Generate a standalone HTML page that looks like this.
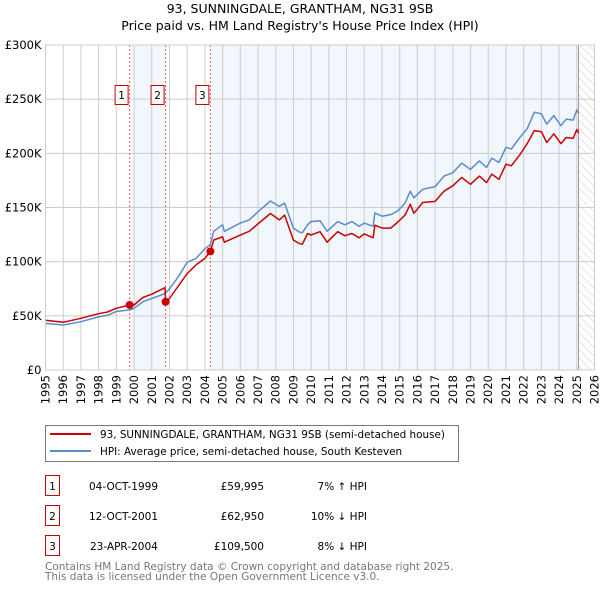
<!DOCTYPE html>
<html><head><meta charset="utf-8"><style>
body{margin:0;background:#fff;}
svg{display:block;font-family:"DejaVu Sans","Liberation Sans",sans-serif;}
</style></head><body>
<svg id="chart" width="600" height="590" viewBox="0 0 600 590" xmlns="http://www.w3.org/2000/svg">
<defs>
<pattern id="hatch" width="6" height="6" patternUnits="userSpaceOnUse" patternTransform="rotate(-45)">
<line x1="0" y1="0" x2="0" y2="6" stroke="#ccc" stroke-width="1"/></pattern>
</defs>
<text x="300" y="13" text-anchor="middle" font-size="12.5" fill="#000">93, SUNNINGDALE, GRANTHAM, NG31 9SB</text>
<text x="300" y="30" text-anchor="middle" font-size="12.5" fill="#000">Price paid vs. HM Land Registry's House Price Index (HPI)</text>
<g id="plot"></g>
<g>
<rect x="45.5" y="425.5" width="413" height="36" fill="#fff" stroke="#777"/>
<line x1="50" y1="434" x2="91" y2="434" stroke="#cc0000" stroke-width="2"/>
<text x="100" y="438" font-size="10.4">93, SUNNINGDALE, GRANTHAM, NG31 9SB (semi-detached house)</text>
<line x1="50" y1="451" x2="91" y2="451" stroke="#5b8bd0" stroke-width="2"/>
<text x="100" y="455" font-size="10.4">HPI: Average price, semi-detached house, South Kesteven</text>
</g>
<g font-size="10.5">
<rect x="45.5" y="475.5" width="14" height="20" fill="#fff" stroke="#cc0000"/><text x="52.5" y="490" text-anchor="middle">1</text>
<text x="89" y="490">04-OCT-1999</text><text x="264" y="490" text-anchor="end">£59,995</text><text x="367" y="490" text-anchor="end">7% ↑ HPI</text>
<rect x="45.5" y="505.5" width="14" height="20" fill="#fff" stroke="#cc0000"/><text x="52.5" y="520" text-anchor="middle">2</text>
<text x="89" y="520">12-OCT-2001</text><text x="264" y="520" text-anchor="end">£62,950</text><text x="367" y="520" text-anchor="end">10% ↓ HPI</text>
<rect x="45.5" y="535.5" width="14" height="20" fill="#fff" stroke="#cc0000"/><text x="52.5" y="550" text-anchor="middle">3</text>
<text x="90" y="550">23-APR-2004</text><text x="264" y="550" text-anchor="end">£109,500</text><text x="367" y="550" text-anchor="end">8% ↓ HPI</text>
</g>
<text x="45" y="570" font-size="10.5" fill="#777">Contains HM Land Registry data © Crown copyright and database right 2025.</text>
<text x="45" y="580" font-size="10.5" fill="#777">This data is licensed under the Open Government Licence v3.0.</text>
</svg>
<script>
const hpiYears=[1995,1996,1997,1998,1998.5,1999,1999.75,2000,2000.5,2001,2001.75,2002,2002.5,2003,2003.5,2004,2004.3,2004.5,2005,2005.1,2006,2006.5,2007,2007.7,2008.2,2008.5,2009,2009.3,2009.5,2009.8,2010,2010.5,2010.9,2011.5,2011.9,2012.3,2012.7,2013,2013.5,2013.6,2014,2014.5,2014.9,2015.3,2015.6,2015.8,2016.3,2017,2017.5,2018,2018.5,2019,2019.5,2019.9,2020.2,2020.6,2021,2021.3,2021.8,2022.2,2022.6,2023,2023.3,2023.7,2024.1,2024.4,2024.8,2025,2025.1];
const hpiValues=[43,41.5,44.6,49,50.5,54,55.4,57,63,66,70.5,75,86,99.5,103,112,115.7,128,134,128,135.6,138.6,146,156,151,154,131,127.6,126.6,134,137,137.8,128,137,134,137,132.6,135.6,132.6,145,142,143.4,147,154,165,159,166.8,169.3,179,182,191,185.2,193,187,195.6,191.5,205.6,204,215,222.7,238,236.4,227,234.8,225.5,231.6,230.7,240,237];
const priceYears=[1995,1996,1997,1998,1998.5,1999,1999.75,2000,2000.5,2001,2001.75,2001.78,2002,2002.5,2003,2003.5,2004,2004.31,2004.5,2005,2005.1,2006,2006.5,2007,2007.7,2008.2,2008.5,2009,2009.3,2009.5,2009.8,2010,2010.5,2010.9,2011.5,2011.9,2012.3,2012.7,2013,2013.5,2013.6,2014,2014.5,2014.9,2015.3,2015.6,2015.8,2016.3,2017,2017.5,2018,2018.5,2019,2019.5,2019.9,2020.2,2020.6,2021,2021.3,2021.8,2022.2,2022.6,2023,2023.3,2023.7,2024.1,2024.4,2024.8,2025,2025.1];
const priceValues=[46,44,47.7,52,53.5,57,60,60,67,70,76,62.95,66,77.5,89,97,103,109.5,120,123,118,124.5,128,135,144.5,138.6,143,120,117,116,126,124.6,127.7,118,127.7,124,126,122,125.6,122,133.7,131,131,136.6,143,153,144.6,154.6,155.6,165,170,177.7,171.4,179,173,180.8,176,190,188.5,199,209,221,220,210,218,209,214.6,213.8,222,218.6];
const saleYears=[1999.75,2001.78,2004.31];
const saleValues=[59.995,62.95,109.5];
const saleLabels=["1","2","3"];
const yTicks=[0,50,100,150,200,250,300];
const yTickLabels=["£0","£50K","£100K","£150K","£200K","£250K","£300K"];
const xTicks=[1995,1996,1997,1998,1999,2000,2001,2002,2003,2004,2005,2006,2007,2008,2009,2010,2011,2012,2013,2014,2015,2016,2017,2018,2019,2020,2021,2022,2023,2024,2025,2026];

const X0=45.5,X1=594.5,Y0=370,Y1=45;
const sx=y=>X0+(y-1995)/(2026-1995)*(X1-X0);
const sy=v=>Y0-v/300*(Y0-Y1);
const NS="http://www.w3.org/2000/svg";
const g=document.getElementById('plot');
function mk(t,a){const e=document.createElementNS(NS,t);for(const k in a)e.setAttribute(k,a[k]);g.appendChild(e);return e;}
let e;
e=mk('rect',{x:sx(2000),y:Y1,width:sx(2001.78)-sx(2000),height:Y0-Y1,fill:'#eef3fc',opacity:0.75});


e=mk('rect',{x:sx(2004.31),y:Y1,width:sx(2025.1)-sx(2004.31),height:Y0-Y1,fill:'#eef3fc',opacity:0.75});


e=mk('rect',{x:sx(2025.1),y:Y1,width:X1-sx(2025.1),height:Y0-Y1,fill:'url(#hatch)'});


xTicks.forEach(t=>{
 e=mk('line',{x1:sx(t),x2:sx(t),y1:Y1,y2:Y0,stroke:'#ccc','stroke-width':1});
 
 
 const tx=sx(t)+4, ty=Y0+5;
 e=mk('text',{x:tx,y:ty,'text-anchor':'end','font-size':11.5,transform:'rotate(-90 '+tx+' '+ty+')'});
 e.textContent=t;
 
 
});
yTicks.forEach((t,i)=>{
 e=mk('line',{x1:X0,x2:X1,y1:sy(t),y2:sy(t),stroke:'#ccc','stroke-width':1});
 
 
 e=mk('text',{x:X0-4,y:sy(t)+4,'text-anchor':'end','font-size':11.5});
 e.textContent=yTickLabels[i];
 
 
});
e=mk('line',{x1:sx(2025.1),x2:sx(2025.1),y1:Y1,y2:Y0,stroke:'#999','stroke-width':1});


saleYears.forEach((y,i)=>{
 e=mk('line',{x1:sx(y),x2:sx(y),y1:Y1,y2:Y0,stroke:'#e06060','stroke-width':1,'stroke-dasharray':'2,2'});
 
 
});
function path(xs,vs,c,name){
 const d=xs.map((x,i)=>(i?'L':'M')+sx(x).toFixed(1)+','+sy(vs[i]).toFixed(1)).join('');
 const p=mk('path',{d:d,fill:'none',stroke:c,'stroke-width':1.5,'stroke-linejoin':'round'});
 
 
}
path(hpiYears,hpiValues,'#5b8bd0','hpi-line');
path(priceYears,priceValues,'#cc0000','price-line');
saleYears.forEach((y,i)=>{
 e=mk('circle',{cx:sx(y),cy:sy(saleValues[i]),r:4,fill:'#cc0000'});
 
 
 e=mk('rect',{x:sx(y)-14.5,y:85.5,width:13,height:19,fill:'#fff',stroke:'#cc0000'});
 
 
 e=mk('text',{x:sx(y)-8,y:99,'text-anchor':'middle','font-size':10.5});
 e.textContent=saleLabels[i];
 
 
});
e=mk('rect',{x:X0,y:Y1,width:X1-X0,height:Y0-Y1,fill:'none',stroke:'#ccc'});


</script>
</body></html>
